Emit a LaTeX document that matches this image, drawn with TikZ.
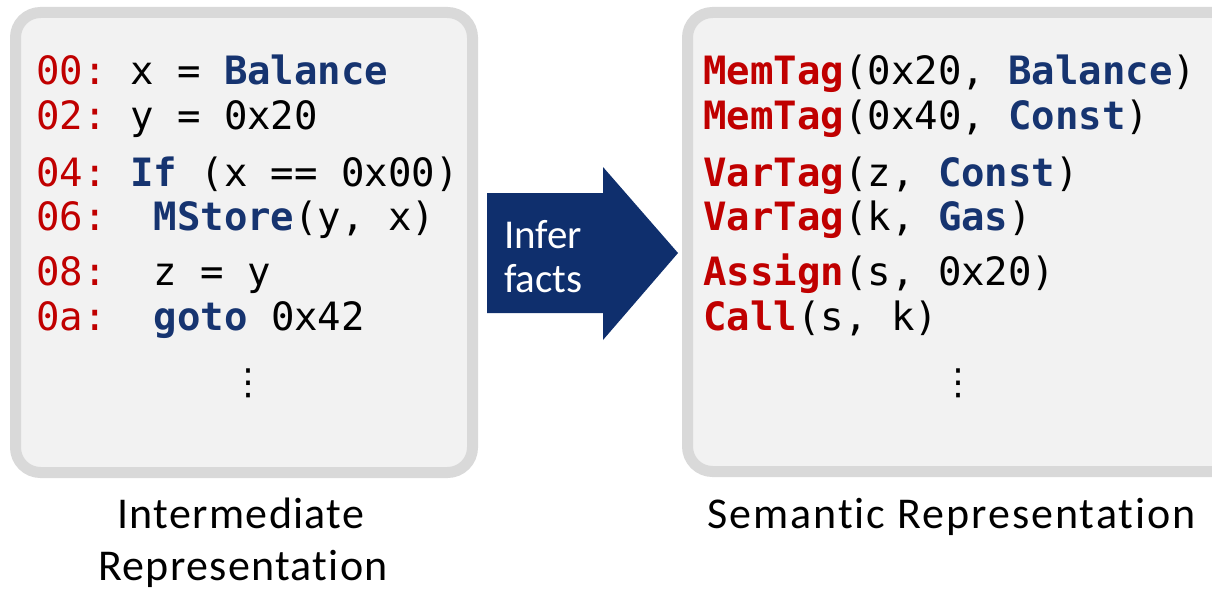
\documentclass[tikz,border=0pt]{standalone}
\usepackage{fontspec}
\setmainfont{Carlito}[Ligatures=NoCommon]
\newfontfamily\codefont{DejaVu Sans Mono}
\newfontfamily\labfont{Carlito}[LetterSpace=3,Ligatures=NoCommon]
\newfontfamily\labfontw{Carlito}[LetterSpace=4.5,Ligatures=NoCommon]
\newfontfamily\dotfont{DejaVu Sans}
\definecolor{kred}{HTML}{C00000}
\definecolor{kblue}{HTML}{163470}
\definecolor{arrowblue}{HTML}{0F2F6D}
\definecolor{panelborder}{HTML}{D9D9D9}
\definecolor{panelfill}{HTML}{F2F2F2}
\newcommand\kr[1]{\textcolor{kred}{#1}}
\newcommand\krb[1]{\textcolor{kred}{\bfseries #1}}
\newcommand\kbb[1]{\textcolor{kblue}{\bfseries #1}}
\frenchspacing
\begin{document}
\begin{tikzpicture}[x=1pt,y=-1pt,
  panel/.style={draw=panelborder, line width=11pt, fill=panelfill, rounded corners=25pt},
  code/.style={anchor=base west, inner sep=0pt, font=\codefont\frenchspacing\fontsize{39}{44}\selectfont},
  dotsnode/.style={inner sep=0pt, font=\dotfont\fontsize{36}{36}\selectfont},
  caption/.style={anchor=base, inner sep=0pt, font=\labfont\fontsize{44}{55}\selectfont},
  captionw/.style={anchor=base, inner sep=0pt, font=\labfontw\fontsize{44}{55}\selectfont},
  infertext/.style={anchor=base west, inner sep=0pt, text=white, font=\fontsize{41}{44}\selectfont}
]
\clip (0,0) rectangle (1212,591);
% panels
\draw[panel] (15.5,12.5) rectangle (472.5,472.5);
\draw[panel] (687.5,12.5) rectangle (1260,471.5);
% left code
\node[code] (l1) at (36,85)  {\kr{00:} x = \kbb{Balance}};
\node[code] (l2) at (36,130) {\kr{02:} y = 0x20};
\node[code] (l3) at (36,186) {\kr{04:} \kbb{If} (x == 0x00)};
\node[code] (l4) at (36,230) {\kr{06:}\ \ \kbb{MStore}(y, x)};
\node[code] (l5) at (36,285) {\kr{08:}\ \ z = y};
\node[code] (l6) at (36,330) {\kr{0a:}\ \ \kbb{goto} 0x42};
\node[dotsnode] (ldots) at (248,383) {⋮};
% right facts
\node[code] (r1) at (703,85)  {\krb{MemTag}(0x20, \kbb{Balance})};
\node[code] (r2) at (703,130) {\krb{MemTag}(0x40, \kbb{Const})};
\node[code] (r3) at (703,186) {\krb{VarTag}(z, \kbb{Const})};
\node[code] (r4) at (703,230) {\krb{VarTag}(k, \kbb{Gas})};
\node[code] (r5) at (703,285) {\krb{Assign}(s, 0x20)};
\node[code] (r6) at (703,330) {\krb{Call}(s, k)};
\node[dotsnode] (rdots) at (958,383) {⋮};
% arrow
\fill[arrowblue] (487,193) -- (603,193) -- (603,167) -- (678,253) -- (603,340) -- (603,313) -- (487,313) -- cycle;
\node[infertext] (infer1) at (504,248) {Infer};
\node[infertext] (infer2) at (504,292) {facts};
% captions
\node[caption] (irlabel1) at (241,528) {Intermediate};
\node[caption] (irlabel2) at (243,580) {Representation};
\node[captionw] (srlabel) at (951.5,528) {Semantic Representation};
\end{tikzpicture}
\end{document}
